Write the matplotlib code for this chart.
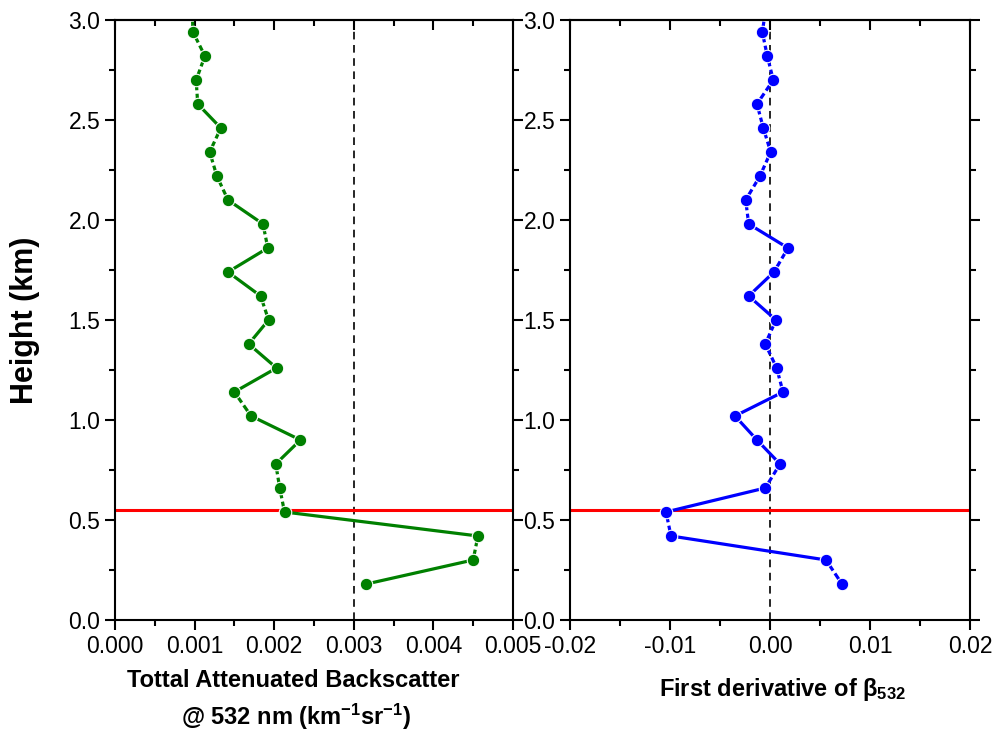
import numpy as np
import matplotlib
matplotlib.use("Agg")
import matplotlib.pyplot as plt
from matplotlib.ticker import MultipleLocator, FormatStrFormatter

plt.rcParams['font.family'] = 'Liberation Sans'
plt.rcParams['mathtext.fontset'] = 'custom'
plt.rcParams['mathtext.rm'] = 'Liberation Sans:bold'
plt.rcParams['mathtext.it'] = 'Liberation Sans:bold'
plt.rcParams['mathtext.bf'] = 'Liberation Sans:bold'
plt.rcParams['axes.unicode_minus'] = False
plt.rcParams['lines.scale_dashes'] = False

# profile heights (km), first one sits just above the plotted range
heights = [3.06, 2.94, 2.82, 2.70, 2.58, 2.46, 2.34, 2.22, 2.10, 1.98, 1.86, 1.74,
           1.62, 1.50, 1.38, 1.26, 1.14, 1.02, 0.90, 0.78, 0.66, 0.54, 0.42, 0.30, 0.18]
backscatter = [0.00097, 0.00098, 0.00113, 0.00102, 0.00104, 0.00133, 0.00119, 0.00128,
               0.00142, 0.00186, 0.00192, 0.00142, 0.00183, 0.00193, 0.00168, 0.00203,
               0.00150, 0.00171, 0.00233, 0.00202, 0.00207, 0.00213, 0.00456, 0.00450,
               0.00316]
derivative = [-0.0004, -0.00077, -0.00027, 0.00033, -0.0013, -0.00067, 0.00007, -0.0010,
              -0.00243, -0.00213, 0.0018, 0.0004, -0.00213, 0.0006, -0.00047, 0.00067,
              0.0013, -0.0035, -0.0013, 0.0010, -0.00047, -0.0104, -0.0099, 0.0056, 0.0072]

boundary_height = 0.55
left_ref = 0.003
right_ref = 0.0

fig = plt.figure(figsize=(9.97, 7.33), dpi=100)
ax1 = fig.add_axes([0.1153, 0.1542, 0.3992, 0.8185])
ax2 = fig.add_axes([0.5717, 0.1542, 0.4012, 0.8185])


def style_axes(ax, xlim, xmajor, xfmt):
    ax.set_xlim(*xlim)
    ax.set_ylim(0, 3.0)
    ax.xaxis.set_major_locator(MultipleLocator(xmajor))
    ax.xaxis.set_minor_locator(MultipleLocator(xmajor / 2))
    ax.xaxis.set_major_formatter(FormatStrFormatter(xfmt))
    ax.yaxis.set_major_locator(MultipleLocator(0.5))
    ax.yaxis.set_minor_locator(MultipleLocator(0.25))
    ax.yaxis.set_major_formatter(FormatStrFormatter('%.1f'))
    for sp in ax.spines.values():
        sp.set_linewidth(1.5)
    ax.tick_params(which='both', direction='out', width=1.5, labelsize=16.5,
                   left=True, right=True, bottom=True, top=False, pad=3)
    ax.tick_params(which='major', length=7.5)
    ax.tick_params(which='minor', length=4)
    # top ticks point inward in the original
    top = ax.secondary_xaxis('top')
    top.xaxis.set_major_locator(MultipleLocator(xmajor))
    top.xaxis.set_minor_locator(MultipleLocator(xmajor / 2))
    top.tick_params(which='both', direction='in', width=1.5, labeltop=False)
    top.tick_params(which='major', length=7.5)
    top.tick_params(which='minor', length=4)
    top.spines['top'].set_linewidth(1.5)


def draw_profile(ax, xs, ys, color):
    pts = ax.transData.transform(np.column_stack([xs, ys]))
    gap = 2.5
    for i in range(len(xs) - 1):
        seg = np.hypot(*(pts[i + 1] - pts[i])) * 72 / fig.dpi
        if seg < 22:
            # short links get one break in the middle, long ones stay solid
            ls = (0, (seg / 2 - gap / 2, gap, 200, 1))
        else:
            ls = '-'
        ax.plot(xs[i:i + 2], ys[i:i + 2], color=color, lw=2.3, linestyle=ls,
                solid_capstyle='butt', dash_capstyle='butt', zorder=3)
    ax.plot(xs, ys, linestyle='none', marker='o', ms=9, mfc=color, mec='white',
            mew=0.8, zorder=4)


style_axes(ax1, (0, 0.005), 0.001, '%.3f')
style_axes(ax2, (-0.02, 0.02), 0.01, '%.2f')

for ax, ref in [(ax1, left_ref), (ax2, right_ref)]:
    ax.axvline(ref, color='black', lw=1.2, linestyle=(0, (5.5, 4)), zorder=1)
    ax.axhline(boundary_height, color='red', lw=2.2, zorder=2)

draw_profile(ax1, backscatter, heights, '#008000')
draw_profile(ax2, derivative, heights, '#0000ff')

fig.text(0.025, 0.5634, 'Height (km)', rotation=90, fontsize=22, fontweight='bold',
         ha='center', va='center')
fig.text(0.294, 0.0723, 'Tottal Attenuated Backscatter', fontsize=17, fontweight='bold',
         ha='center', va='center')
fig.text(0.297, 0.0215, r'@ 532 nm (km$^{-1}$sr$^{-1}$)', fontsize=17,
         fontweight='bold', ha='center', va='center')
fig.text(0.785, 0.0587, r'First derivative of $\beta_{532}$', fontsize=17,
         fontweight='bold', ha='center', va='center')

fig.savefig('out.png', dpi=100)
